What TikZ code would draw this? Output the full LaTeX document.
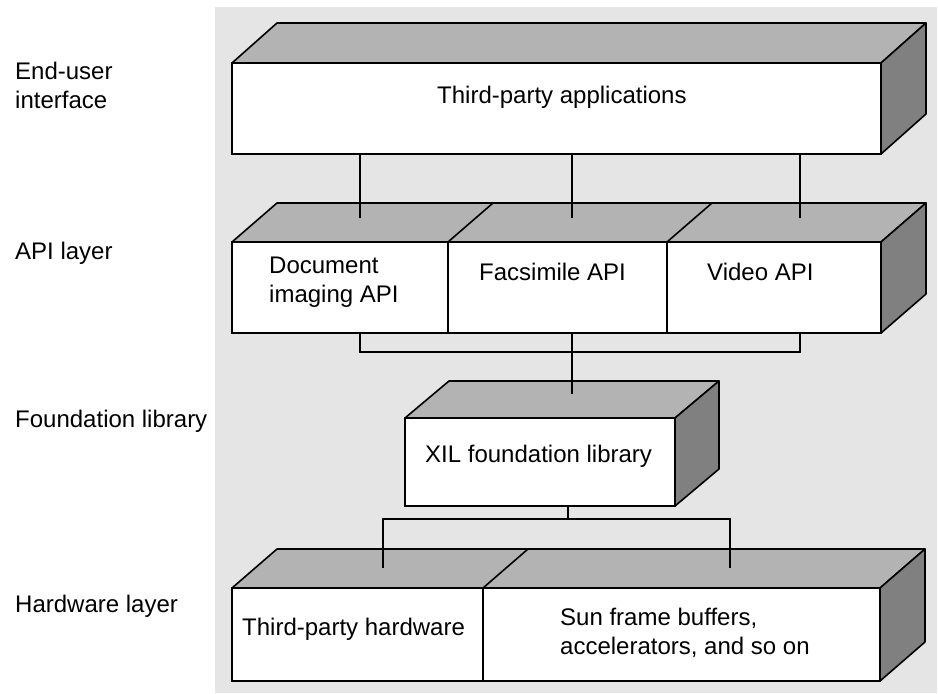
\documentclass[tikz,border=0pt]{standalone}
\usepackage{fontspec}
\setmainfont{Liberation Sans}
\definecolor{bggray}{RGB}{229,229,229}
\definecolor{topgray}{RGB}{179,179,179}
\definecolor{sidegray}{RGB}{128,128,128}
\begin{document}
\begin{tikzpicture}[x=1pt,y=-1pt,
  every node/.style={font=\fontsize{24}{29}\selectfont},
  front/.style={draw, fill=white, line width=1.6pt, inner sep=0pt, outer sep=0pt},
  topface/.style={draw, fill=topgray, line width=1.6pt, line join=round},
  sideface/.style={draw, fill=sidegray, line width=1.6pt, line join=round},
  wire/.style={draw, line width=1.6pt},
  lbl/.style={anchor=base west, inner sep=0pt, align=left}]
\useasboundingbox (0,0) rectangle (938,694);
\fill[bggray] (215,7) rectangle (937,693);

% front faces
\node[front, minimum width=649pt, minimum height=91pt] (app) at (556.5,108.5) {};
\node[front, minimum width=216pt, minimum height=91pt] (doc) at (340,287.5) {};
\node[front, minimum width=219pt, minimum height=91pt] (fax) at (557.5,287.5) {};
\node[front, minimum width=214pt, minimum height=91pt] (vid) at (774,287.5) {};
\node[front, minimum width=270pt, minimum height=88pt] (xil) at (540,462) {};
\node[front, minimum width=251pt, minimum height=93pt] (hw) at (357.5,634.5) {};
\node[front, minimum width=397pt, minimum height=93pt] (sun) at (681.5,634.5) {};

% top and side faces
\filldraw[topface] (app.north west) -- ++(45,-40) -- ([shift={(45,-40)}]app.north east) -- (app.north east) -- cycle;
\filldraw[sideface] (app.north east) -- ++(45,-40) -- ([shift={(45,-40)}]app.south east) -- (app.south east) -- cycle;

\filldraw[topface] (doc.north west) -- ++(45,-39) -- ([shift={(45,-39)}]vid.north east) -- (vid.north east) -- cycle;
\draw[topface] (doc.north east) -- ++(45,-39);
\draw[topface] (fax.north east) -- ++(45,-39);
\filldraw[sideface] (vid.north east) -- ++(45,-39) -- ([shift={(45,-39)}]vid.south east) -- (vid.south east) -- cycle;

\filldraw[topface] (xil.north west) -- ++(44,-37) -- ([shift={(44,-37)}]xil.north east) -- (xil.north east) -- cycle;
\filldraw[sideface] (xil.north east) -- ++(44,-37) -- ([shift={(44,-37)}]xil.south east) -- (xil.south east) -- cycle;

\filldraw[topface] (hw.north west) -- ++(45,-39) -- ([shift={(45,-39)}]sun.north east) -- (sun.north east) -- cycle;
\draw[topface] (hw.north east) -- ++(45,-39);
\filldraw[sideface] (sun.north east) -- ++(45,-39) -- ([shift={(45,-39)}]sun.south east) -- (sun.south east) -- cycle;

% connectors
\coordinate (a1) at (360,218);
\coordinate (a2) at (572,218);
\coordinate (a3) at (800,218);
\draw[wire] (app.south -| a1) -- (a1);
\draw[wire] (app.south -| a2) -- (a2);
\draw[wire] (app.south -| a3) -- (a3);

\coordinate (b1) at (360,352);
\coordinate (b2) at (800,352);
\coordinate (xt) at (572,394);
\draw[wire] (doc.south -| b1) -- (b1) -- (b2) -- (vid.south -| b2);
\draw[wire] (fax.south -| xt) -- (xt);

\coordinate (h0) at (568,519);
\coordinate (h1) at (383,568);
\coordinate (h2) at (730,568);
\draw[wire] (xil.south -| h0) -- (h0);
\draw[wire] (h1) -- (h1 |- h0) -- (h2 |- h0) -- (h2);

% texts in boxes (multi-line nodes: base = last line)
\node[lbl] (t-app) at (437,103) {Third-party applications};
\node[lbl] (t-doc) at (269,302) {Document\\imaging API};
\node[lbl] (t-fax) at (479,280) {Facsimile API};
\node[lbl] (t-vid) at (707,280) {Video API};
\node[lbl] (t-xil) at (425,462) {XIL foundation library};
\node[lbl] (t-hw) at (242,635) {Third-party hardware};
\node[lbl] (t-sun) at (560,654) {Sun frame buffers,\\accelerators, and so on};

% layer labels
\node[lbl] (l-eu) at (15,108) {End-user\\interface};
\node[lbl] (l-api) at (15,259) {API layer};
\node[lbl] (l-fl) at (15,427) {Foundation library};
\node[lbl] (l-hw) at (15,612) {Hardware layer};
\end{tikzpicture}
\end{document}
